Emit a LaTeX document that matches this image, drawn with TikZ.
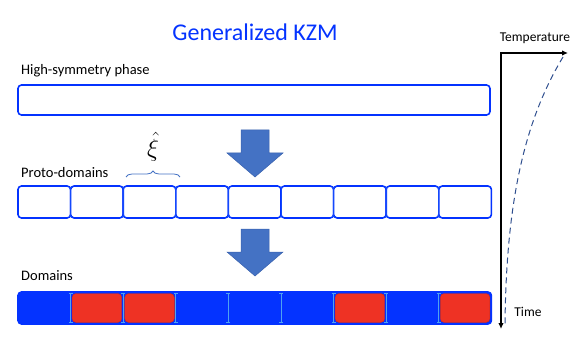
\documentclass[tikz,border=0pt]{standalone}
\usepackage{fontspec}
\setmainfont{Carlito}
\usepackage{amsmath}
\usetikzlibrary{arrows.meta,positioning,calc,decorations.pathreplacing}
\definecolor{KzmBlue}{HTML}{0433FF}
\definecolor{KzmRed}{HTML}{EE3224}
\definecolor{KzmArrow}{HTML}{4472C4}
\definecolor{KzmArrowEdge}{HTML}{3A62AE}
\definecolor{KzmWall}{HTML}{4FA3F0}
\definecolor{KzmCurve}{HTML}{2F4F8F}

\begin{document}
\begin{tikzpicture}[x=1pt, y=-1pt,
  lbl/.style={anchor=west, inner sep=0pt, font=\fontsize{14.5}{17}\selectfont},
  cellbox/.style={draw=KzmBlue, line width=1.6pt, rounded corners=3.5pt, fill=white},
  wall/.style={KzmWall, line width=0.9pt, {Bar[width=4pt]}-{Bar[width=4pt]}},
  fatarrow/.style={fill=KzmArrow, draw=KzmArrowEdge, line width=0.5pt}]
\useasboundingbox (0,0) rectangle (581,342);

% Title
\node[font=\fontsize{24}{28}\selectfont, text=KzmBlue] (title) at (255,32) {Generalized KZM};

% High-symmetry phase
\node[lbl] (hslabel) at (21,71) {High-symmetry phase};
\draw[cellbox] (18,85) rectangle (490,115);

% Block arrows between the rows
\foreach \ya in {130,229}
  \filldraw[fatarrow] (241,\ya) -- (269,\ya) -- (269,\ya+23) -- (283,\ya+23)
    -- (255,\ya+47) -- (227,\ya+23) -- (241,\ya+23) -- cycle;

% Proto-domains
\node[lbl] (protolabel) at (21,173) {Proto-domains};
\foreach \i in {0,...,8}
  \draw[cellbox] ({18+52.6*\i},186) rectangle ({18+52.6*(\i+1)},218);
\foreach \k in {1,...,8}
  \draw[wall, KzmBlue!80!KzmWall] ({18+52.6*\k},187) -- ({18+52.6*\k},217);

% Correlation length
\draw[KzmArrow, line width=0.8pt, decorate, decoration={brace, amplitude=6pt}]
  (126,177) -- (180,177);
\node[font=\fontsize{27}{30}\selectfont] (xi) at (153,147) {$\hat{\xi}$};

% Domains
\node[lbl] (domlabel) at (21,276) {Domains};
\fill[KzmBlue, rounded corners=3.5pt] (18,292) rectangle (491.4,324);
\foreach \i in {1,2,6,8}
  \filldraw[KzmRed, draw=KzmRed!85!black, line width=0.4pt, rounded corners=4pt]
    ({18+52.6*\i+1.5},293.5) rectangle ({18+52.6*(\i+1)-1.5},322.5);
\draw[cellbox, fill=none] (18,292) rectangle (491.4,324);
\foreach \k in {1,...,8}
  \draw[wall] ({18+52.6*\k},293) -- ({18+52.6*\k},323);

% Temperature vs time
\coordinate (corner) at (501,53);
\coordinate (tempEnd) at (568,53);
\coordinate (timeEnd) at (501,329);
\draw[line width=1.3pt, {Latex[length=6pt,width=5.5pt]}-{Latex[length=6pt,width=5.5pt]}]
  (tempEnd) -- (corner) -- (timeEnd);
\node[font=\fontsize{13.5}{16}\selectfont] (templabel) at (535,38) {Temperature};
\node[font=\fontsize{13.5}{16}\selectfont] (timelabel) at (528,312) {Time};
\draw[KzmCurve, line width=1pt, dash pattern=on 6pt off 4pt]
  (563,57) .. controls (525,120) and (506,200) .. (505,326);
\end{tikzpicture}
\end{document}
